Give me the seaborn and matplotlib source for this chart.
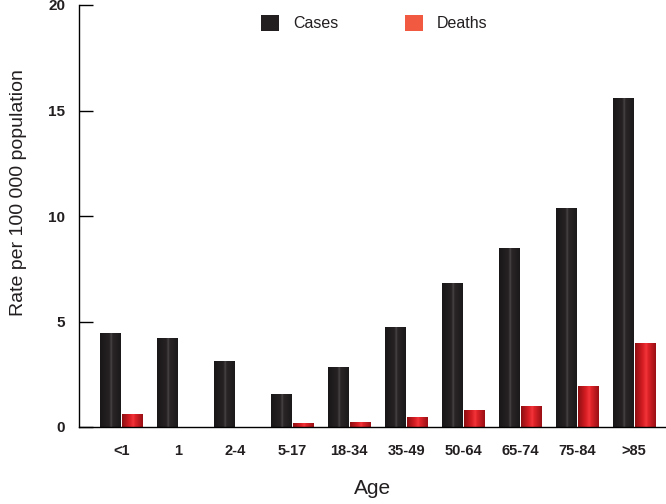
import numpy as np
import pandas as pd
import matplotlib
matplotlib.use("Agg")
import matplotlib.pyplot as plt
import seaborn as sns
from matplotlib.patches import Patch
from matplotlib.colors import LinearSegmentedColormap

ages = ["<1", "1", "2-4", "5-17", "18-34", "35-49", "50-64", "65-74", "75-84", ">85"]
cases = [4.45, 4.2, 3.13, 1.56, 2.84, 4.74, 6.82, 8.48, 10.38, 15.6]
deaths = [0.6, 0.0, 0.0, 0.17, 0.22, 0.47, 0.81, 0.99, 1.94, 3.98]
series = ["Cases", "Deaths"]
yticks = [0, 5, 10, 15, 20]

df = pd.DataFrame({
    "Age": ages * 2,
    "Rate": cases + deaths,
    "Series": [series[0]] * len(ages) + [series[1]] * len(ages),
})

sns.set_theme(style="white")
plt.rcParams["font.family"] = ["Liberation Sans", "DejaVu Sans"]

fig = plt.figure(figsize=(6.66, 5.04), dpi=100)
ax = fig.add_axes([79 / 666, 1 - 427 / 504, 1 - 79 / 666, 422 / 504])

dark = "#231f20"
red = "#d81e24"
sns.barplot(data=df, x="Age", y="Rate", hue="Series", order=ages, hue_order=series,
            palette=[dark, red], width=0.77, gap=0.06, ax=ax, legend=False,
            saturation=1, linewidth=0, errorbar=None)

# cylinder shading drawn over each bar, clipped to the bar
cmap_dark = LinearSegmentedColormap.from_list(
    "cd", [(0, "#1a1718"), (0.45, "#262223"), (0.55, "#4a4647"), (0.6, "#2a2627"), (1, "#1c191a")])
cmap_red = LinearSegmentedColormap.from_list(
    "cr", [(0, "#8e0f12"), (0.35, "#d41c22"), (0.55, "#f4363a"), (0.62, "#e0242a"), (1, "#9a1015")])
grad = np.linspace(0, 1, 64).reshape(1, -1)
n = len(ages)
for i, p in enumerate(ax.patches[: 2 * n]):
    x0, y0 = p.get_x(), p.get_y()
    w, h = p.get_width(), p.get_height()
    if h <= 0:
        continue
    cm = cmap_dark if i < n else cmap_red
    im = ax.imshow(grad, extent=[x0, x0 + w, y0, y0 + h], aspect="auto", cmap=cm,
                   origin="lower", zorder=p.get_zorder() + 0.1, interpolation="bilinear")
    im.set_clip_path(p)

ax.set_xlim(-0.74, 9.56)
ax.set_ylim(0, 20)
ax.set_yticks(yticks)
ax.set_yticklabels([str(t) for t in yticks])
ax.tick_params(axis="y", direction="in", length=10, width=1, color="black", left=True, pad=10,
               labelsize=11)
ax.tick_params(axis="x", length=0, pad=12, labelsize=10.5)
for lab in ax.get_xticklabels() + ax.get_yticklabels():
    lab.set_fontweight("bold")
    lab.set_color("#231f20")

for s in ["top", "right"]:
    ax.spines[s].set_visible(False)
for s in ["left", "bottom"]:
    ax.spines[s].set_color("black")
    ax.spines[s].set_linewidth(1)

ax.set_ylabel("Rate per 100 000 population", fontsize=14, color="#231f20")
ax.yaxis.set_label_coords(-0.088, 0.555)
ax.set_xlabel("Age", fontsize=15, color="#231f20", labelpad=15)
ax.grid(False)

handles = [Patch(facecolor=dark, edgecolor="none"), Patch(facecolor="#f15a40", edgecolor="none")]
leg = ax.legend(handles, series, loc="upper center", bbox_to_anchor=(0.503, 1.01), ncol=2,
                frameon=False, fontsize=11.5, columnspacing=4.2, handlelength=1.15,
                handleheight=1.15, handletextpad=0.85)
for t in leg.get_texts():
    t.set_color("#231f20")

fig.savefig("out.png", dpi=100)
